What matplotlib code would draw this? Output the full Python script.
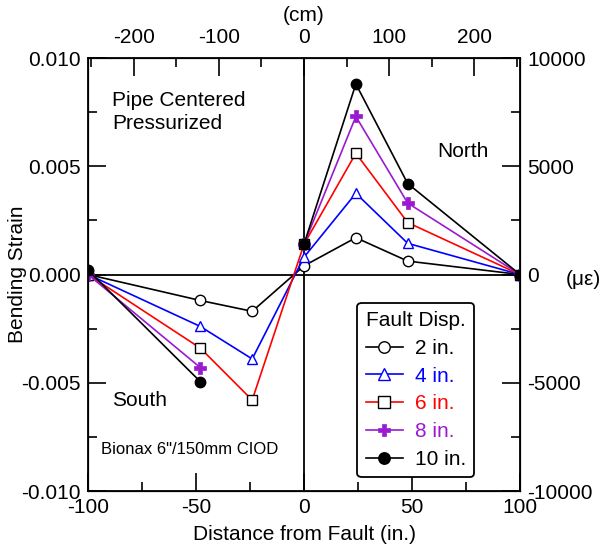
import matplotlib
matplotlib.use('Agg')
import matplotlib.pyplot as plt
from matplotlib.ticker import MultipleLocator, FormatStrFormatter
import numpy as np

plt.rcParams['font.family'] = ['Liberation Sans', 'DejaVu Sans']
plt.rcParams['axes.unicode_minus'] = False

# distance from fault (in.)
distance = [-100, -48, -24, 0, 24, 48, 100]

# bending strain for each fault displacement
strain_2in = [0.0, -0.0012, -0.0017, 0.0004, 0.0017, 0.00062, 0.0]
strain_4in = [0.0, -0.0024, -0.0039, 0.0008, 0.00375, 0.00144, 0.0]
strain_6in = [0.0, -0.0034, -0.0058, 0.0014, 0.0056, 0.0024, 0.0]
strain_8in = [0.0, -0.0043, np.nan, 0.0014, 0.0073, 0.0033, 0.0]
strain_10in = [0.0002, -0.00495, np.nan, 0.0014, 0.0088, 0.0042, 0.0]

labels = ['2 in.', '4 in.', '6 in.', '8 in.', '10 in.']
colors = ['black', 'blue', 'red', '#9a1ad0', 'black']

FS = 15


def style_ticks(a):
    a.tick_params(which='both', direction='in', labelsize=FS, width=1.2)
    a.tick_params(which='major', length=13, pad=5)
    a.tick_params(which='minor', length=6.5)


fig = plt.figure(figsize=(6.13, 5.54), dpi=100)
ax = fig.add_axes([0.1436, 0.1137, 0.7047, 0.7816])

ax.axhline(0, color='black', lw=1.3, zorder=1)
ax.axvline(0, color='black', lw=1.3, zorder=1)

styles = [
    dict(marker='o', mfc='white', mec='black', ms=7.5, mew=1.0),
    dict(marker='^', mfc='white', mec='blue', ms=7.5, mew=1.0),
    dict(marker='s', mfc='white', mec='black', ms=7.5, mew=1.0),
    dict(marker='P', mfc='#9a1ad0', mec='#9a1ad0', ms=8.5, mew=0.5),
    dict(marker='o', mfc='black', mec='black', ms=7.5, mew=1.0),
]
series = [strain_2in, strain_4in, strain_6in, strain_8in, strain_10in]
for vals, lab, col, st in zip(series, labels, colors, styles):
    ax.plot(distance, vals, color=col, lw=1.2, label=lab, zorder=3, **st)

ax.set_xlim(-100, 100)
ax.set_ylim(-0.01, 0.01)
ax.xaxis.set_major_locator(MultipleLocator(50))
ax.xaxis.set_minor_locator(MultipleLocator(25))
ax.yaxis.set_major_locator(MultipleLocator(0.005))
ax.yaxis.set_minor_locator(MultipleLocator(0.0025))
ax.yaxis.set_major_formatter(FormatStrFormatter('%.3f'))
style_ticks(ax)
ax.set_xlabel('Distance from Fault (in.)', fontsize=FS, labelpad=6)
ax.set_ylabel('Bending Strain', fontsize=FS)
ax.yaxis.set_label_coords(-0.141, 0.5)
for s in ax.spines.values():
    s.set_linewidth(1.3)

# secondary axes: centimetres on top, microstrain on the right
top = ax.twiny()
top.set_xlim(-100 * 2.54, 100 * 2.54)
top.xaxis.set_major_locator(MultipleLocator(100))
top.xaxis.set_minor_locator(MultipleLocator(50))
style_ticks(top)
top.tick_params(which='major', pad=8)
top.set_xlabel('(cm)', fontsize=FS, labelpad=5)

right = ax.twinx()
right.set_ylim(-10000, 10000)
right.yaxis.set_major_locator(MultipleLocator(5000))
right.yaxis.set_minor_locator(MultipleLocator(2500))
style_ticks(right)
fig.text(0.951, 0.496, '(\u03bc\u03b5)', fontsize=FS, ha='center', va='center')

ax.text(-89, 0.0075, 'Pipe Centered\nPressurized', fontsize=FS, va='center', linespacing=1.25)
ax.text(61.5, 0.0057, 'North', fontsize=FS, va='center')
ax.text(-89, -0.0058, 'South', fontsize=FS, va='center')
ax.text(-94, -0.0081, 'Bionax 6"/150mm CIOD', fontsize=12, va='center')

leg = ax.legend(loc='lower right', bbox_to_anchor=(0.894, 0.032), title='Fault Disp.',
                fontsize=FS, title_fontsize=FS, frameon=True, fancybox=True,
                handlelength=1.8, handletextpad=0.55, labelspacing=0.42,
                borderpad=0.4, borderaxespad=0.0, framealpha=1, markerscale=1.1)
leg.get_frame().set_edgecolor('black')
leg.get_frame().set_linewidth(1.3)
for txt, col in zip(leg.get_texts(), colors):
    txt.set_color(col)
leg.set_zorder(5)

fig.savefig('out.png', dpi=100)
